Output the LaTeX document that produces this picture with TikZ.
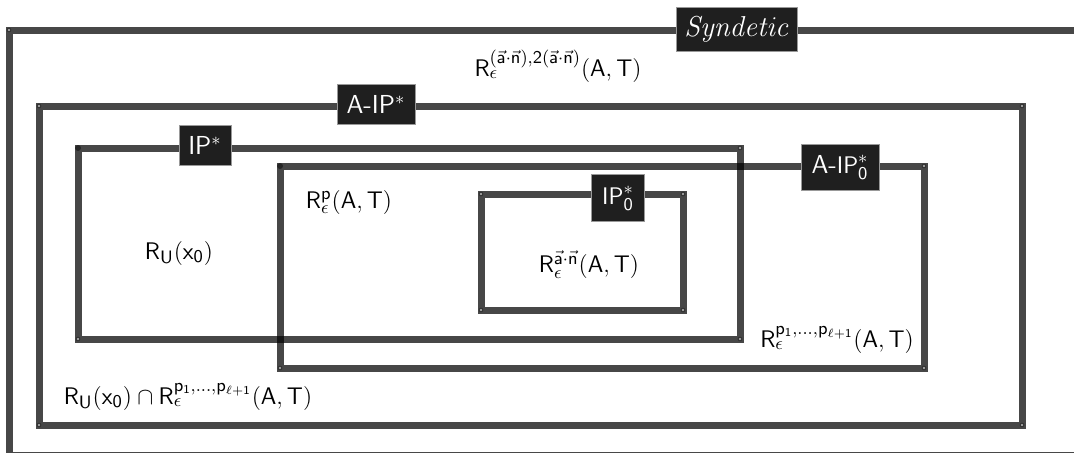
\documentclass[tikz,border=0pt]{standalone}
\begin{document}
\begin{tikzpicture}[x=0.5pt,y=-0.5pt,
  region/.style={draw=black,draw opacity=0.72,line width=3.5pt,line join=miter},
  tag/.style={fill=black!88,draw=black!40,line width=0.4pt,text=white,
    font=\fontsize{13}{15}\selectfont\sffamily,inner sep=0pt},
  lbl/.style={font=\fontsize{13}{15}\selectfont\sffamily,inner sep=0pt},
  opencorner/.style={fill=black!80},
  opencore/.style={fill=black!25}]
\useasboundingbox (0,0) rectangle (1074,452);
% region corners
\coordinate (s1) at (9,30);    \coordinate (s2) at (1110,455);
\coordinate (a1) at (39,106);  \coordinate (a2) at (1022,425);
\coordinate (i1) at (78,148);  \coordinate (i2) at (740,339);
\coordinate (b1) at (280,166); \coordinate (b2) at (924,368);
\coordinate (c1) at (481,194); \coordinate (c2) at (683,310);
\begin{scope}
\clip (0,0) rectangle (1074,452);
\draw[region] (s1) rectangle (s2);
\end{scope}
\draw[region] (a1) rectangle (a2);
\draw[region] (i1) rectangle (i2);
\draw[region] (b1) rectangle (b2);
\draw[region] (c1) rectangle (c2);
% corner marks
\foreach \p in {(9,30),(39,106),(1022,106),(1022,425),(39,425),
  (740,148),(740,339),(78,339),(924,166),(924,368),(280,368),
  (481,194),(683,194),(683,310),(481,310)}{
  \fill[opencorner] \p circle (2.4);
  \fill[opencore] \p circle (1.1);
}
\fill[black!85] (i1) circle (3);
\fill[black!85] (b1) circle (3);
% tags
\node[tag,minimum width=60.5pt,minimum height=22pt,font=\fontsize{14}{16}\selectfont] (syn) at (737,29) {$\mathit{Syndetic}$};
\node[tag,minimum width=39pt,minimum height=20pt] (aip) at (376,104) {A-IP$^{*}$};
\node[tag,minimum width=26pt,minimum height=20pt] (ip) at (205,145) {IP$^{*}$};
\node[tag,minimum width=26.5pt,minimum height=23.5pt] (ipz) at (618,198) {$\mathsf{IP}^{*}_{\mathsf{0}}$};
\node[tag,minimum width=39pt,minimum height=23pt] (aipz) at (840,167) {A-$\mathsf{IP}^{*}_{\mathsf{0}}$};
% labels
\node[lbl] (l1) at (558,66) {$\mathsf{R}_{\epsilon}^{(\vec{\mathsf{a}}\cdot\vec{\mathsf{n}}),\mathsf{2}(\vec{\mathsf{a}}\cdot\vec{\mathsf{n}})}(\mathsf{A},\mathsf{T})$};
\node[lbl] (l2) at (179,253) {$\mathsf{R}_{\mathsf{U}}(\mathsf{x}_{\mathsf{0}})$};
\node[lbl] (l3) at (349,202) {$\mathsf{R}_{\epsilon}^{\mathsf{p}}(\mathsf{A},\mathsf{T})$};
\node[lbl] (l4) at (589,265) {$\mathsf{R}_{\epsilon}^{\vec{\mathsf{a}}\cdot\vec{\mathsf{n}}}(\mathsf{A},\mathsf{T})$};
\node[lbl] (l5) at (837,340) {$\mathsf{R}_{\epsilon}^{\mathsf{p}_{\mathsf{1}},\ldots,\mathsf{p}_{\ell+\mathsf{1}}}(\mathsf{A},\mathsf{T})$};
\node[lbl] (l6) at (188,397) {$\mathsf{R}_{\mathsf{U}}(\mathsf{x}_{\mathsf{0}})\cap\mathsf{R}_{\epsilon}^{\mathsf{p}_{\mathsf{1}},\ldots,\mathsf{p}_{\ell+\mathsf{1}}}(\mathsf{A},\mathsf{T})$};
\end{tikzpicture}
\end{document}
